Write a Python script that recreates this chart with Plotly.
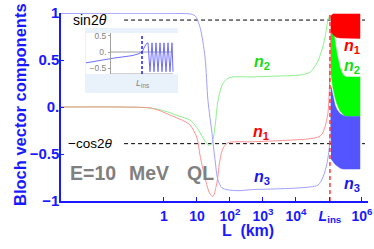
import math
import plotly.graph_objects as go

# ---------------- data ----------------
SIN2T = 0.925          # sin 2theta reference line
NEG_COS2T = -0.39      # -cos 2theta reference line
L_INS = 1.07e5         # km, position of L_ins

# smooth evolution before L_ins (L in km)
L_n1 = [7.6e-4, 0.046, 0.38, 0.76, 1.5, 3.05, 6.1, 10, 12.3, 17.5, 24.8, 30.5, 40.4,
        49.8, 61.4, 86.9, 142, 404, 2310, 23100, 46400, 61400, 75700, 93300, 115000]
n1_vals = [0, 0, -0.01, -0.04, -0.085, -0.13, -0.19, -0.33, -0.51, -0.755, -0.925, -0.95, -0.80,
           -0.56, -0.44, -0.38, -0.37, -0.37, -0.36, -0.34, -0.32, -0.29, -0.21, -0.06, 0.98]

L_n2 = [7.6e-4, 0.046, 0.38, 0.76, 1.5, 2.5, 6.1, 10, 15.2, 20.1, 23.1, 28.5, 35.1, 43.3,
        57.3, 81, 123, 404, 3270, 13200, 26600, 43300, 61400, 75700, 93300, 107000]
n2_vals = [0, 0, -0.01, -0.03, -0.06, -0.09, -0.14, -0.22, -0.33, -0.39, -0.41, -0.38, -0.21, 0.07,
           0.23, 0.30, 0.32, 0.32, 0.33, 0.34, 0.37, 0.47, 0.61, 0.74, 0.93, 0.98]

L_n3 = [7.6e-4, 3.05, 6.1, 8.7, 12.3, 17.5, 21.5, 28.5, 35.1, 43.3, 57.3, 81, 201, 404,
        13200, 46400, 65800, 86900, 107000, 115000]
n3_vals = [0.995, 0.995, 0.99, 0.97, 0.85, 0.53, 0.07, -0.28, -0.56, -0.78, -0.86, -0.88, -0.89, -0.88,
           -0.86, -0.83, -0.745, -0.60, -0.35, 0.2]

# fast oscillation after L_ins: envelopes (upper / lower)
band_L = [1.15e5, 1.32e5, 1.52e5, 1.75e5, 2.15e5, 2.66e5, 3.28e5, 4.33e5, 8.7e5]
n1_hi = [0.97, 0.99, 0.99, 0.99, 0.99, 0.99, 0.99, 0.99, 0.99]
n1_lo = [0.80, 0.77, 0.75, 0.74, 0.735, 0.73, 0.73, 0.73, 0.73]
n2_hi = [0.97, 0.82, 0.68, 0.56, 0.42, 0.34, 0.32, 0.32, 0.32]
n2_lo = [0.35, 0.20, 0.10, 0.03, -0.04, -0.08, -0.10, -0.10, -0.10]
n3_hi = [0.22, 0.10, 0.02, -0.03, -0.07, -0.09, -0.10, -0.10, -0.10]
n3_lo = [-0.55, -0.58, -0.61, -0.63, -0.65, -0.66, -0.66, -0.66, -0.66]

# x tick marks
x_tickvals = [1, 10, 100, 1000, 10000, L_INS, 1e6]
x_ticktext = ["1", "10", "10<sup>2</sup>", "10<sup>3</sup>", "10<sup>4</sup>",
              "<i>L</i><sub>ins</sub>", "10<sup>6</sup>"]
y_tickvals = [-1, -0.5, 0, 0.5, 1]
y_ticktext = ["\u22121", "\u22120.5", "0.", "0.5", "1"]

# inset curve
ins_x = [-24, -15, -5, 5, 15, 22, 28, 32, 34, 36, 38, 40, 42, 44, 46, 48, 50, 52, 54, 56, 58, 60, 62, 63]
ins_y = [-0.33, -0.28, -0.22, -0.18, -0.14, -0.11, -0.06, 0.0, 0.12, 0.24, 0.28, -0.6, 0.28, -0.6,
         0.28, -0.6, 0.28, -0.6, 0.28, -0.6, 0.28, -0.6, 0.28, -0.6]
INS_LINS = 32
ins_yticks = [-0.5, 0, 0.5]
ins_yticktext = ["\u22120.5", "0.", "0.5"]

# ---------------- styling ----------------
AX = "rgb(25,25,255)"
FONT = "Liberation Sans"
RED, GREEN, BLUE = "rgb(255,0,0)", "rgb(0,255,0)", "rgb(85,85,255)"
RED_L, GREEN_L, BLUE_L = "rgb(255,145,145)", "rgb(140,240,140)", "rgb(160,160,255)"

fig = go.Figure()

# inset background
fig.add_shape(type="rect", xref="paper", yref="paper",
              x0=(85 - 61) / 307, x1=(178 - 61) / 307,
              y0=(201 - 93) / 188, y1=(201 - 28) / 188,
              fillcolor="rgb(233,241,251)", line=dict(width=0), layer="below")

# reference dashed lines
for val in (SIN2T, NEG_COS2T):
    fig.add_trace(go.Scatter(x=[0.0616, 1.23e6], y=[val, val], mode="lines",
                             line=dict(color="black", width=1, dash="4px,3px"),
                             hoverinfo="skip", showlegend=False))

# smooth curves
for L, v, c in ((L_n2, n2_vals, GREEN_L), (L_n1, n1_vals, RED_L), (L_n3, n3_vals, BLUE_L)):
    fig.add_trace(go.Scatter(x=L, y=v, mode="lines", line=dict(color=c, width=1, shape="spline", smoothing=0.8),
                             hoverinfo="skip", showlegend=False))

# oscillation bands
def band(hi, lo, color):
    fig.add_trace(go.Scatter(x=band_L + band_L[::-1], y=hi + lo[::-1], mode="lines",
                             fill="toself", fillcolor=color,
                             line=dict(color=color, width=0.5),
                             hoverinfo="skip", showlegend=False))

band(n2_hi, n2_lo, GREEN)
band(n1_hi, n1_lo, RED)
band(n3_hi, n3_lo, BLUE)

# L_ins vertical line
fig.add_trace(go.Scatter(x=[L_INS, L_INS], y=[-1, 1], mode="lines",
                         line=dict(color="rgb(255,30,30)", width=1.3, dash="4px,3px"),
                         hoverinfo="skip", showlegend=False))

# inset
fig.add_trace(go.Scatter(x=ins_x, y=ins_y, mode="lines", xaxis="x2", yaxis="y2",
                         line=dict(color="rgb(110,110,255)", width=1),
                         hoverinfo="skip", showlegend=False))
fig.add_trace(go.Scatter(x=[INS_LINS, INS_LINS], y=[-0.67, 0.52], mode="lines", xaxis="x2", yaxis="y2",
                         line=dict(color="rgb(30,30,255)", width=1.5, dash="3px,2px"),
                         hoverinfo="skip", showlegend=False))
for yy in (0, -0.67):
    fig.add_shape(type="line", xref="x2", yref="y2", x0=0, x1=63, y0=yy, y1=yy,
                  line=dict(color="rgb(160,160,160)", width=1), layer="below")

# annotations
ann = []
def A(x, y, text, size, color, **kw):
    d = dict(x=x, y=y, text=text, showarrow=False, font=dict(family=FONT, size=size, color=color))
    d.update(kw)
    ann.append(d)

A(-2.24, SIN2T, "sin2<i>θ</i>", 14, "black")
A(-2.24, NEG_COS2T, "\u2212cos2<i>θ</i>", 13.5, "black")
A(-2.91, -0.70, "<b>E=10</b>", 19.5, "rgb(128,128,128)", xanchor="left")
A((127 - 164) / 33, -0.70, "<b>MeV</b>", 19.5, "rgb(128,128,128)", xanchor="left")
A((185 - 164) / 33, -0.70, "<b>QL</b>", 19.5, "rgb(128,128,128)", xanchor="left")
A(2.96, 0.47, "<b><i>n</i><sub>2</sub></b>", 16, "rgb(20,220,20)")
A(2.94, -0.27, "<b><i>n</i><sub>1</sub></b>", 16, "rgb(255,0,0)")
A(2.96, -0.755, "<b><i>n</i><sub>3</sub></b>", 16, "rgb(25,25,230)")
A(5.70, 0.64, "<b><i>n</i><sub>1</sub></b>", 16, "rgb(255,0,0)")
A(5.70, 0.43, "<b><i>n</i><sub>2</sub></b>", 16, "rgb(20,220,20)")
A(5.70, -0.82, "<b><i>n</i><sub>3</sub></b>", 16, "rgb(25,25,230)")
# axis titles
A(-52 / 307, (201 - 105) / 188, "<b>Bloch vector components</b>", 16.5, AX,
  xref="paper", yref="paper", textangle=-90)
A((248 - 61) / 307, (201 - 241) / 188, "<b>L  (km)</b>", 16, AX, xref="paper", yref="paper")
# inset label
A(INS_LINS, (201 - 83) / 188, "<i>L</i><sub>ins</sub>", 9, "rgb(130,130,130)", xref="x2", yref="paper")

fig.update_layout(
    width=374, height=249,
    margin=dict(l=61, r=6, t=13, b=48, autoexpand=False),
    paper_bgcolor="white", plot_bgcolor="white",
    showlegend=False,
    annotations=ann,
    xaxis=dict(type="log", range=[-3.121, 6.182], showline=True, linecolor=AX, linewidth=1.5,
               ticks="inside", ticklen=4, tickcolor=AX, tickwidth=1,
               tickvals=x_tickvals, ticktext=x_ticktext, ticklabelstandoff=1,
               tickfont=dict(family=FONT, size=14, color=AX, weight="bold"),
               showgrid=False, zeroline=False, automargin=False),
    yaxis=dict(range=[-1, 1], showline=True, linecolor=AX, linewidth=1.5,
               ticks="inside", ticklen=3, tickcolor=AX, tickwidth=1,
               tickvals=y_tickvals, ticktext=y_ticktext, ticklabelstandoff=-3,
               tickfont=dict(family=FONT, size=15, color=AX, weight="bold"),
               showgrid=False, zeroline=False, automargin=False),
    xaxis2=dict(domain=[(86 - 61) / 307, (178 - 61) / 307], range=[-24, 68], anchor="y2",
                visible=False, automargin=False),
    yaxis2=dict(domain=[(201 - 74) / 188, (201 - 33) / 188], range=[-0.67, 0.58],
                anchor="free", position=(110 - 61) / 307,
                showline=True, linecolor="rgb(160,160,160)", linewidth=1,
                ticks="outside", ticklen=2, tickcolor="rgb(160,160,160)",
                tickvals=ins_yticks, ticktext=ins_yticktext,
                tickfont=dict(family=FONT, size=8.5, color="rgb(130,130,130)"),
                showgrid=False, zeroline=False, automargin=False),
)

fig.write_html("out.html", config={"displayModeBar": False},
               post_script="document.body.style.margin='0';document.body.style.padding='0';"
                           "document.documentElement.style.overflow='hidden';")
